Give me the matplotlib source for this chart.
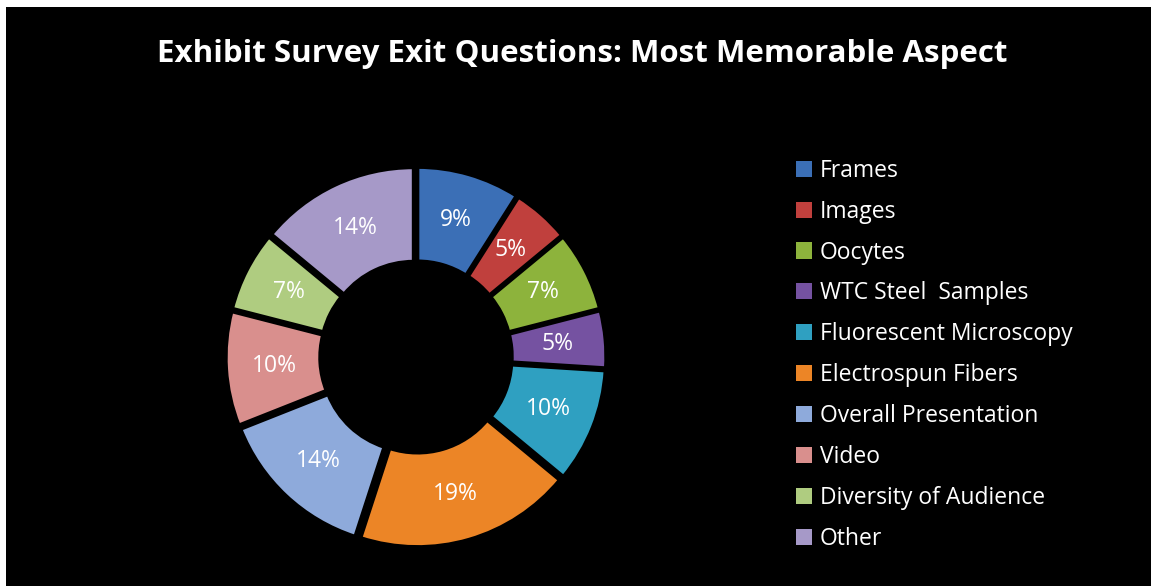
import matplotlib.pyplot as plt
from matplotlib.patches import Rectangle

categories = ["Frames", "Images", "Oocytes", "WTC Steel  Samples", "Fluorescent Microscopy",
              "Electrospun Fibers", "Overall Presentation", "Video", "Diversity of Audience", "Other"]
values = [9, 5, 7, 5, 10, 19, 14, 10, 7, 14]
colors = ["#3b6fb6", "#c0403d", "#8db33c", "#7552a1", "#2fa0c1",
          "#ec8526", "#8eaadb", "#d98f8d", "#afcc80", "#a699c8"]

W, H = 1151, 586
fig = plt.figure(figsize=(W / 100, H / 100), dpi=100, facecolor="white")
fig.patches.append(Rectangle((6 / W, -0.1), 1.1, 1.1 - 7 / H, transform=fig.transFigure,
                             facecolor="black", edgecolor="none", zorder=-5))

fig.text(582 / W, 1 - 54 / H, "Exhibit Survey Exit Questions: Most Memorable Aspect",
         ha="center", va="center", color="white", fontsize=22.5, fontweight="bold",
         family="Open Sans")

cx, cy, r = 416, 357, 192
ax = fig.add_axes([(cx - r) / W, 1 - (cy + r) / H, 2 * r / W, 2 * r / H])
ax.set_facecolor("none")
ax.axis("off")

wedges, texts, autotexts = ax.pie(
    values, colors=colors, startangle=90, counterclock=False,
    explode=[0.03] * len(values), radius=0.96,
    autopct=lambda p: f"{p:.0f}%", pctdistance=0.74,
    wedgeprops=dict(width=0.49, edgecolor="black", linewidth=2.5),
    textprops=dict(color="white", fontsize=16.5, family="Open Sans"))
ax.set_xlim(-1, 1)
ax.set_ylim(-1, 1)
ax.set_aspect("equal")

leg = fig.legend(wedges, categories, loc="upper left",
                 bbox_to_anchor=(775 / W, 1 - 138 / H), frameon=False,
                 handlelength=0.7, handleheight=0.7, handletextpad=0.35,
                 labelspacing=0.74, prop=dict(family="Open Sans", size=16.5),
                 labelcolor="white")
for h in leg.legend_handles:
    h.set_linewidth(0)

fig.savefig("out.png", dpi=100, facecolor=fig.get_facecolor())
